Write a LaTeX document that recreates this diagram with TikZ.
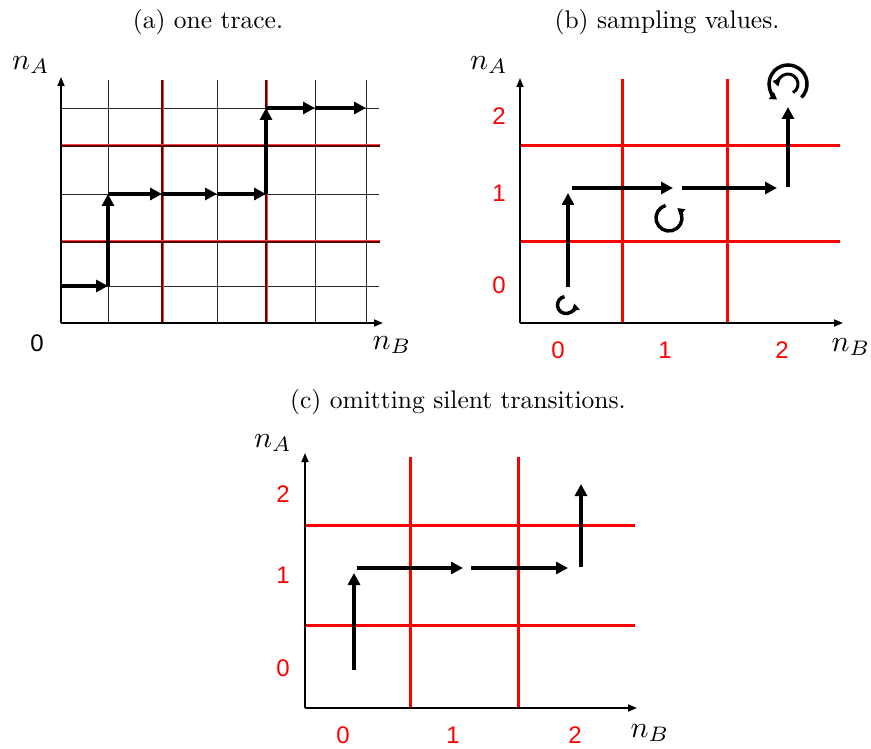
\documentclass[tikz,border=0pt]{standalone}
\usepackage{fontspec}
\newfontfamily\digitfont{Liberation Sans}
\usepackage{tikz}
\usetikzlibrary{arrows.meta}

\begin{document}
\begin{tikzpicture}[
  x=1pt,y=-1pt,
  capt/.style ={font=\normalsize,scale=2.55},
  axlab/.style={font=\normalsize,scale=3},
  num/.style  ={font=\digitfont\fontsize{24}{26}\selectfont,text=red},
  zero/.style ={font=\digitfont\fontsize{24}{26}\selectfont},
  axis/.style ={-{Triangle[length=9pt,width=7pt]},line width=1.8pt},
  gline/.style={line width=0.9pt,black!85},
  rgrid/.style={line width=3pt,red!75,postaction={draw=black!65!red,line width=1.3pt}},
  rline/.style={line width=3pt,red},
  mv/.style   ={-{Triangle[length=12pt,width=12pt]},line width=4pt},
  lp/.style   ={-{Triangle[length=7pt,width=8pt]},line width=3.5pt}]

  \useasboundingbox (0,0) rectangle (871,749);

  % ===== (a) one trace =====
  \node[capt] (capa) at (208,22) {(a) one trace.};
  \foreach \x in {108,217,315,366}
    \draw[gline] (\x,80) -- (\x,323);
  \foreach \y in {108,194,286}
    \draw[gline] (61,\y) -- (379,\y);
  \foreach \x in {162,266}
    \draw[rgrid] (\x,80) -- (\x,323);
  \foreach \y in {146,242}
    \draw[rgrid] (61,\y) -- (380,\y);
  \coordinate (ao) at (61,323);
  \coordinate (ay) at (61,77);
  \coordinate (ax) at (383,323);
  \draw[axis] (ao) -- (ay);
  \draw[axis] (ao) -- (ax);
  \node[axlab] (anA) at (31,65) {$n_A$};
  \node[axlab] (anB) at (392,345) {$n_B$};
  \node[zero]  (az)  at (37,343) {0};
  % trace
  \coordinate (a0) at (61,286);
  \coordinate (a1) at (108,286);
  \coordinate (a2) at (108,194);
  \coordinate (a3) at (162,194);
  \coordinate (a4) at (217,194);
  \coordinate (a5) at (266,194);
  \coordinate (a6) at (266,108);
  \coordinate (a7) at (315,108);
  \coordinate (a8) at (366,108);
  \foreach \s/\t in {a0/a1,a1/a2,a2/a3,a3/a4,a4/a5,a5/a6,a6/a7,a7/a8}
    \draw[mv] (\s) -- (\t);

  % ===== (b) sampling values =====
  \node[capt] (capb) at (667,22) {(b) sampling values.};
  \foreach \x in {622,727}
    \draw[rline] (\x,79) -- (\x,323);
  \foreach \y in {146,242}
    \draw[rline] (520,\y) -- (840,\y);
  \coordinate (bo) at (520,323);
  \coordinate (by) at (520,78);
  \coordinate (bx) at (843,323);
  \draw[axis] (bo) -- (by);
  \draw[axis] (bo) -- (bx);
  \node[axlab] (bnA) at (489,65) {$n_A$};
  \node[axlab] (bnB) at (851,347) {$n_B$};
  \foreach \v/\y in {2/116,1/193,0/285}
    \node[num] (by\v) at (499,\y) {\v};
  \foreach \v/\x in {0/558,1/665,2/782}
    \node[num] (bx\v) at (\x,350) {\v};
  % moves
  \coordinate (b0) at (568,287);
  \coordinate (b1) at (568,193);
  \coordinate (b2) at (572,188);
  \coordinate (b3) at (673,188);
  \coordinate (b4) at (682,188);
  \coordinate (b5) at (777,188);
  \coordinate (b6) at (788,187);
  \coordinate (b7) at (788,107);
  \foreach \s/\t in {b0/b1,b2/b3,b4/b5,b6/b7}
    \draw[mv] (\s) -- (\t);
  % self loops
  \coordinate (l0) at (566,305);
  \coordinate (l1) at (669,218);
  \coordinate (l2) at (788,84);
  \draw[lp] (l0) ++(100:8.5pt) arc[start angle=100,end angle=370,radius=8.5pt];
  \draw[lp] (l1) ++(105:13pt) arc[start angle=105,end angle=410,radius=13pt];
  \draw[lp] (l2) ++(-45:19pt) arc[start angle=-45,end angle=235,radius=19pt];
  \draw[lp,line width=3pt] (l2) ++(-60:10pt) arc[start angle=-60,end angle=195,radius=10pt];

  % ===== (c) omitting silent transitions =====
  \node[capt] (capc) at (458,402) {(c) omitting silent transitions.};
  \foreach \x in {410,518}
    \draw[rline] (\x,457) -- (\x,708);
  \foreach \y in {525,625}
    \draw[rline] (305,\y) -- (635,\y);
  \coordinate (co) at (305,708);
  \coordinate (cy) at (305,453);
  \coordinate (cx) at (637,708);
  \draw[axis] (co) -- (cy);
  \draw[axis] (co) -- (cx);
  \node[axlab] (cnA) at (273,443) {$n_A$};
  \node[axlab] (cnB) at (650,733) {$n_B$};
  \foreach \v/\y in {2/494,1/575,0/668}
    \node[num] (cy\v) at (283,\y) {\v};
  \foreach \v/\x in {0/343,1/453,2/575}
    \node[num] (cx\v) at (\x,735) {\v};
  % moves
  \coordinate (c0) at (354,670);
  \coordinate (c1) at (354,573);
  \coordinate (c2) at (357,568);
  \coordinate (c3) at (463,568);
  \coordinate (c4) at (471,568);
  \coordinate (c5) at (568,568);
  \coordinate (c6) at (581,567);
  \coordinate (c7) at (581,484);
  \foreach \s/\t in {c0/c1,c2/c3,c4/c5,c6/c7}
    \draw[mv] (\s) -- (\t);

\end{tikzpicture}
\end{document}
